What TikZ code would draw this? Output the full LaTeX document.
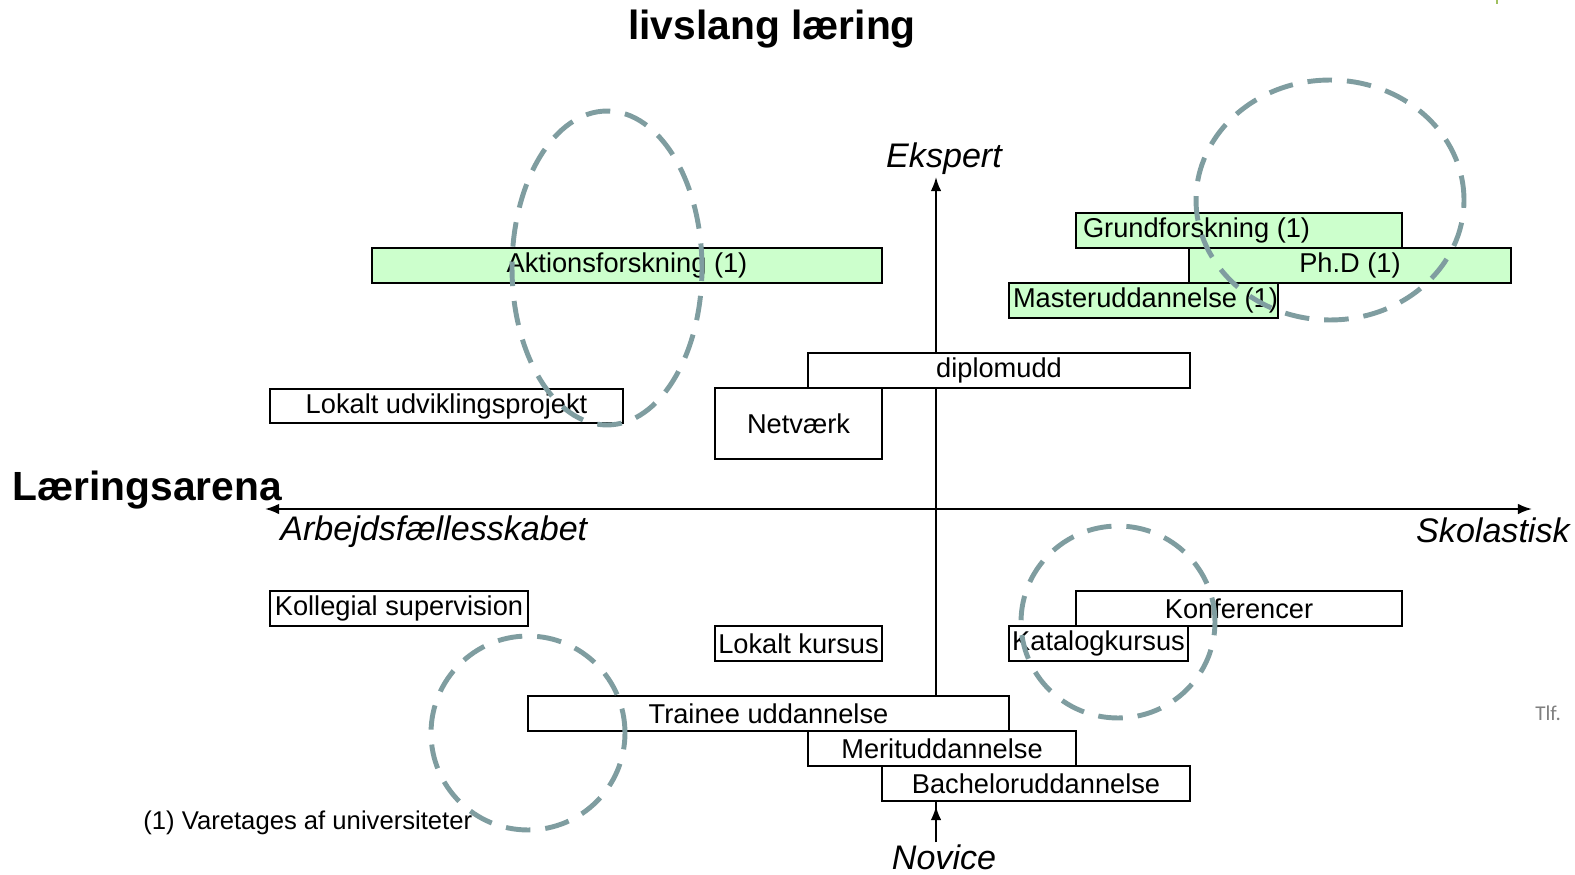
\documentclass[tikz,border=0pt]{standalone}
\usepackage{fontspec}
\setmainfont{Liberation Sans}
\newfontfamily\tlffont{Carlito}
\usetikzlibrary{arrows.meta}
\definecolor{boxgreen}{RGB}{204,255,204}
\definecolor{ringcol}{RGB}{127,157,160}
\definecolor{markgreen}{RGB}{160,192,96}
\begin{document}
\begin{tikzpicture}[x=0.02cm,y=-0.02cm,
  box/.style={draw=black, line width=1.4pt, fill=white, inner sep=0pt, minimum height=0.7cm, font=\fontsize{15.5}{18}\selectfont},
  gbox/.style={box, fill=boxgreen},
  ring/.style={draw=ringcol, line width=2.8pt, dash pattern=on 14pt off 8.5pt},
  axis/.style={line width=1.1pt, draw=black},
  tip/.style={-{Latex[length=8pt,width=6pt]}},
  bigbold/.style={font=\bfseries\fontsize{23.2}{27}\selectfont, inner sep=0pt},
  axlabel/.style={font=\itshape\fontsize{19.4}{23}\selectfont, inner sep=0pt},
  note/.style={font=\fontsize{14.6}{17}\selectfont, inner sep=0pt}
]
\useasboundingbox (0,0) rectangle (1575,875);

% axes
\coordinate (L) at (265,509);
\coordinate (R) at (1532,509);
\coordinate (T) at (936,177);
\coordinate (B) at (936,842);
\coordinate (Bt) at (936,806);
\draw[axis,{Latex[length=8pt,width=6pt]}-{Latex[length=8pt,width=6pt]}] (L) -- (R);
\draw[axis,tip] (B) -- (T);

% boxes
\node[gbox, minimum width=10.2cm] (akt) at (627,265.5) {Aktionsforskning (1)};
\node[gbox, inner xsep=0.14cm] (grund) at (1239,230.5) {\makebox[6.24cm][l]{Grundforskning (1)}};
\node[gbox, minimum width=6.44cm] (phd) at (1350,265.5) {Ph.D (1)};
\node[gbox, inner xsep=0.08cm] (master) at (1143.5,300.5) {\makebox[5.22cm][l]{Masteruddannelse (1)}};
\node[box, minimum width=7.64cm] (diplom) at (999,370.5) {diplomudd};
\node[box, minimum width=3.34cm, minimum height=1.42cm] (netv) at (798.5,423.5) {Netværk};
\node[box, minimum width=7.06cm, minimum height=0.68cm] (lok) at (446.5,406) {Lokalt udviklingsprojekt};
\node[box, minimum width=5.16cm] (koll) at (399,608.5) {Kollegial supervision};
\node[box, minimum width=3.34cm] (lkurs) at (798.5,643.5) {Lokalt kursus};
\node[box, minimum width=6.52cm] (konf) at (1239,608.5) {Konferencer};
\node[box, minimum width=3.58cm] (katal) at (1098.5,643.5) {Katalogkursus};
\node[box, minimum width=9.62cm] (trainee) at (768.5,713.5) {Trainee uddannelse};
\node[box, minimum width=5.36cm] (merit) at (942,748.5) {Merituddannelse};
\node[box, minimum width=6.16cm] (bach) at (1036,783.5) {Bacheloruddannelse};

\draw[axis,tip] (B) -- (Bt);

% dashed rings
\draw[ring] (607,268) ellipse [x radius=1.9cm, y radius=3.14cm];
\draw[ring] (1330,200) ellipse [x radius=2.68cm, y radius=2.4cm];
\draw[ring] (1118,622) ellipse [x radius=1.94cm, y radius=1.92cm];
\draw[ring] (528,733) ellipse [x radius=1.94cm, y radius=1.94cm];

% texts
\node[bigbold, anchor=base] (title) at (772,40) {livslang læring};
\node[bigbold, anchor=base west] (arena) at (12,500) {Læringsarena};
\node[axlabel, anchor=base west] (arb) at (280,540) {Arbejdsfællesskabet};
\node[axlabel, anchor=base east] (skol) at (1570,542) {Skolastisk};
\node[axlabel, anchor=base] (eksp) at (944,167) {Ekspert};
\node[axlabel, anchor=base] (nov) at (944,869) {Novice};
\node[note, anchor=base west] (fn) at (143,829) {(1) Varetages af universiteter};
\node[font=\tlffont\fontsize{12}{14}\selectfont, text=gray, inner sep=0pt, anchor=base west] (tlf) at (1535,720) {Tlf.};
\draw[markgreen, line width=1pt] (1497,0) -- (1497,4);
\end{tikzpicture}
\end{document}
